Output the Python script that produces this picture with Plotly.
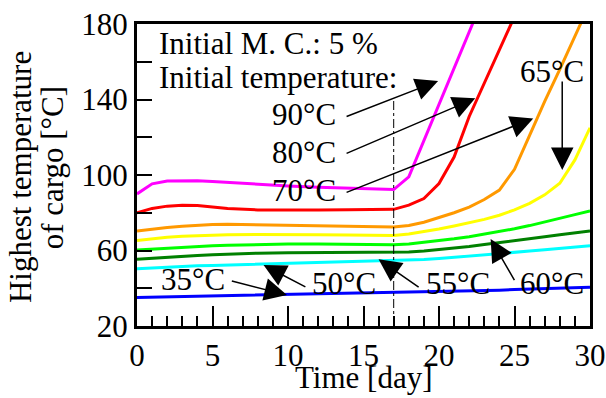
import plotly.graph_objects as go

# ---------------- data ----------------
days = [0, 1, 2, 3, 4, 5, 6, 8, 10, 12, 14, 16, 17, 18, 19, 20, 21, 22, 23, 24, 25, 26, 27, 28, 29, 30]

t90 = [90, 95.3, 96.8, 97, 96.9, 96.5, 96, 95, 94.2, 93.5, 92.9, 92.4, 92.3, 99, 118, 138, 157, 176, 195]
t80 = [80, 82.3, 83.5, 84, 83.8, 83, 82.2, 81.5, 81.3, 81.4, 81.6, 81.7, 81.8, 84, 87.5, 95.5, 109.5, 131, 148.5, 166, 184]
t70 = [70.3, 71.3, 72.2, 72.9, 73.4, 73.8, 73.9, 73.6, 73.2, 73, 72.8, 72.5, 72.4, 73.3, 75, 77.5, 80, 83, 87, 92, 103, 121, 139, 156, 173.5, 191]
t65 = [65.3, 66.3, 67, 67.5, 67.8, 68.1, 68.3, 68.5, 68.6, 68.4, 68.2, 68, 67.9, 68.7, 70, 71.4, 73, 74.8, 76.5, 78.7, 81.5, 85, 89.5, 95.6, 108, 125]
t60 = [60.3, 60.8, 61.3, 61.7, 62.1, 62.5, 62.8, 63.2, 63.4, 63.5, 63.4, 63.2, 63.1, 63.5, 64.3, 65.2, 66.2, 67.3, 68.6, 70, 71.5, 73.2, 75, 77, 79, 81]
t55 = [55.4, 56, 56.5, 57, 57.4, 57.8, 58.1, 58.6, 58.8, 58.9, 58.9, 58.9, 58.9, 59.2, 59.7, 60.4, 61.2, 62.1, 63.2, 64.3, 65.3, 66.3, 67.3, 68.3, 69.3, 70.3]
t50 = [50.3, 50.8, 51.2, 51.6, 51.9, 52.1, 52.3, 52.8, 53.3, 53.7, 54.1, 54.4, 54.5, 54.8, 55.2, 55.7, 56.3, 56.9, 57.6, 58.3, 59, 59.7, 60.4, 61.1, 61.8, 62.5]
t35 = [35.1, 35.25, 35.4, 35.55, 35.7, 35.85, 36, 36.3, 36.6, 36.9, 37.2, 37.5, 37.6, 37.8, 38, 38.2, 38.4, 38.6, 38.8, 39, 39.3, 39.5, 39.7, 39.9, 40.2, 40.5]

series = [
    ("35°C", t35, "#0000FF"),
    ("50°C", t50, "#00FFFF"),
    ("55°C", t55, "#008000"),
    ("60°C", t60, "#00FF00"),
    ("65°C", t65, "#FFFF00"),
    ("70°C", t70, "#FF9900"),
    ("80°C", t80, "#FF0000"),
    ("90°C", t90, "#FF00FF"),
]

switch_day = 17
x_ticks = [0, 5, 10, 15, 20, 25, 30]
y_ticks = [20, 60, 100, 140, 180]

title_x = "Time [day]"
title_y1 = "Highest temperature"
title_y2 = "of cargo [°C]"
note1 = "Initial M. C.: 5 %"
note2 = "Initial temperature:"

# label text, label position (day, °C), anchor, arrow tail, arrow tip
labels = [
    ("90°C", 13.32, 131.8, "right", (13.78, 130.7), (19.94, 149.8)),
    ("80°C", 13.32, 111.7, "right", (13.78, 111.1), (22.4, 140.6)),
    ("70°C", 13.32, 92.0, "right", (13.78, 90.5), (26.24, 130.0)),
    ("65°C", 27.46, 155.1, "center", (28.16, 150.3), (28.16, 102.6)),
    ("35°C", 3.69, 44.4, "center", (6.18, 44.0), (9.93, 36.4)),
    ("50°C", 13.68, 42.3, "center", (11.25, 40.3), (8.38, 52.3)),
    ("55°C", 21.24, 42.3, "center", (18.75, 40.0), (16.0, 55.3)),
    ("60°C", 27.46, 42.3, "center", (25.05, 43.5), (23.42, 66.1)),
]

FONT = "Liberation Serif, Times New Roman, serif"

fig = go.Figure()
for name, vals, col in series:
    fig.add_trace(go.Scatter(x=days[:len(vals)], y=vals, mode="lines", name=name,
                             line=dict(color=col, width=3), showlegend=False))

fig.add_shape(type="line", x0=switch_day, x1=switch_day, y0=20, y1=140, xref="x", yref="y",
              line=dict(color="black", width=1, dash="dashdot"), layer="above")

ann = []
for txt, lx, ly, anc, tail, tip in labels:
    ann.append(dict(x=lx, y=ly, xref="x", yref="y", text=txt, showarrow=False,
                    xanchor=anc, yanchor="middle", font=dict(size=31, color="black", family=FONT)))
    ann.append(dict(x=tip[0], y=tip[1], ax=tail[0], ay=tail[1], xref="x", yref="y",
                    axref="x", ayref="y", text="", showarrow=True, arrowhead=2,
                    arrowsize=3.0, arrowwidth=1.5, arrowcolor="black", standoff=0))

ann.append(dict(x=1.34, y=169.9, xref="x", yref="y", text=note1, showarrow=False,
                xanchor="left", yanchor="middle", font=dict(size=31, color="black", family=FONT)))
ann.append(dict(x=1.34, y=151.7, xref="x", yref="y", text=note2, showarrow=False,
                xanchor="left", yanchor="middle", font=dict(size=31, color="black", family=FONT)))
ann.append(dict(x=-0.2556, y=0.494, xref="paper", yref="paper", text=title_y1, showarrow=False,
                textangle=-90, xanchor="center", yanchor="middle",
                font=dict(size=31, color="black", family=FONT)))
ann.append(dict(x=-0.1856, y=0.525, xref="paper", yref="paper", text=title_y2, showarrow=False,
                textangle=-90, xanchor="center", yanchor="middle",
                font=dict(size=31, color="black", family=FONT)))
ann.append(dict(x=0.5, y=-0.169, xref="paper", yref="paper", text=title_x, showarrow=False,
                xanchor="center", yanchor="middle",
                font=dict(size=31, color="black", family=FONT)))

fig.update_layout(
    width=606, height=398, autosize=False,
    margin=dict(l=137, r=16, t=24, b=72),
    paper_bgcolor="white", plot_bgcolor="white",
    font=dict(family=FONT, size=31, color="black"),
    annotations=ann,
    xaxis=dict(range=[0, 30], tickvals=x_ticks, ticks="inside", ticklen=20, tickwidth=1.5,
               tickcolor="black", showline=True, linecolor="black", linewidth=3, mirror=True,
               showgrid=False, zeroline=False, tickfont=dict(size=31), automargin=False,
               ticklabeloverflow="allow",
               minor=dict(dtick=1, ticks="inside", ticklen=10, tickwidth=1.5, tickcolor="black", showgrid=False)),
    yaxis=dict(range=[20, 180], tickvals=y_ticks, ticks="inside", ticklen=15, tickwidth=1.5,
               tickcolor="black", showline=True, linecolor="black", linewidth=3, mirror=True,
               showgrid=False, zeroline=False, tickfont=dict(size=31), automargin=False,
               ticklabeloverflow="allow",
               minor=dict(dtick=20, tick0=20, ticks="inside", ticklen=15, tickwidth=1.5, tickcolor="black", showgrid=False)),
)

# remove the page's default body margin so the figure fills the window exactly
fig.write_html("out.html", config={"displayModeBar": False},
               post_script="document.body.style.margin='0px';document.body.style.overflow='hidden';")
